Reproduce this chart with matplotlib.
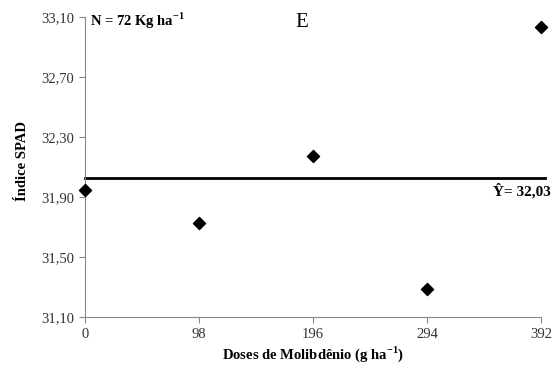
import matplotlib.pyplot as plt

plt.rcParams['font.family'] = ['Liberation Serif', 'DejaVu Serif']
plt.rcParams['mathtext.fontset'] = 'custom'
plt.rcParams['mathtext.rm'] = 'Liberation Serif'
plt.rcParams['mathtext.bf'] = 'Liberation Serif:bold'

doses = [0, 98, 196, 294, 392]
spad = [31.95, 31.73, 32.17, 31.29, 33.03]
media = 32.03
y_ticks = [31.10, 31.50, 31.90, 32.30, 32.70, 33.10]

fig = plt.figure(figsize=(5.55, 3.74), dpi=100)
ax = fig.add_axes([0.153, 0.152, 0.822, 0.803])

ax.scatter(doses, spad, marker='D', s=38, c='black', zorder=3, clip_on=False)
ax.plot([0, 395], [media, media], color='black', lw=2, zorder=2, clip_on=False)

ax.set_xlim(0, 392)
ax.set_ylim(31.10, 33.10)
ax.set_xticks(doses)
ax.set_yticks(y_ticks)
ax.set_yticklabels([f'{v:.2f}'.replace('.', ',') for v in y_ticks])

for s in ['top', 'right']:
    ax.spines[s].set_visible(False)
for s in ['left', 'bottom']:
    ax.spines[s].set_color('#888888')
ax.tick_params(colors='#888888', labelcolor='#333333', labelsize=10.5, length=4)

ax.set_xlabel('Doses de Molibdênio (g ha$^{\\mathbf{-1}}$)', fontsize=10.5,
              fontweight='bold', labelpad=3)
ax.set_ylabel('Índice SPAD', fontsize=10.5, fontweight='bold')
ax.yaxis.set_label_coords(-0.122, 0.52)

ax.text(4, 33.07, 'N = 72 Kg ha$^{\\mathbf{-1}}$', fontsize=10.5, fontweight='bold', va='center')
ax.text(186, 33.06, 'E', fontsize=15, ha='center', va='center')
ax.text(400, 31.94, 'Ŷ= 32,03', fontsize=11, fontweight='bold', ha='right', va='center')

plt.savefig('out.png', dpi=100)
plt.close()
